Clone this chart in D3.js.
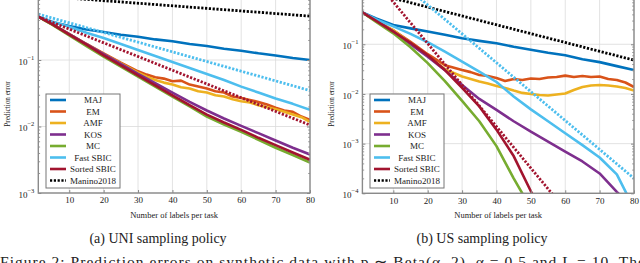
<!DOCTYPE html>
<html>
<head>
<meta charset="utf-8">
<script src="https://cdn.jsdelivr.net/npm/d3@7"></script>
<style>
  body { margin: 0; background: #fff; }
  svg { display: block; }
  text { font-family: "Liberation Serif", "Times New Roman", serif; fill: #222; }
</style>
</head>
<body>
<div id="chart"></div>
<script>
// number of labels per task
var xs = [1, 5, 10, 15, 20, 25, 30, 35, 40, 45, 50, 55, 60, 65, 70, 75, 80];
var xsNoisy = [1, 5, 10, 15, 20, 25, 30, 32.5, 35, 37.5, 40, 42.5, 45, 47.5, 50, 52.5, 55, 57.5, 60, 62.5, 65, 67.5, 70, 72.5, 75, 77.5, 80];
var boundX = [1, 80];
var xTicks = [10, 20, 30, 40, 50, 60, 70, 80];

var names = ["MAJ", "EM", "AMF", "KOS", "MC", "Fast SBIC", "Sorted SBIC", "Manino2018"];
var colors = ["#0072BD", "#D95319", "#EDB120", "#7E2F8E", "#77AC30", "#4DBEEE", "#A2142F", "#000000"];

// (a) UNI sampling policy
var uniMAJ = [0.447, 0.372, 0.324, 0.288, 0.263, 0.240, 0.224, 0.204, 0.191, 0.174, 0.162, 0.148, 0.138, 0.126, 0.117, 0.107, 0.100];
var uniEM = [0.447, 0.347, 0.245, 0.174, 0.126, 0.0912, 0.0676, 0.0603, 0.0550, 0.0525, 0.0479, 0.0490, 0.0427, 0.0398, 0.0372, 0.0339, 0.0324, 0.0282, 0.0269, 0.0251, 0.0234, 0.0214, 0.0191, 0.0174, 0.0166, 0.0141, 0.0126];
var uniAMF = [0.447, 0.347, 0.245, 0.174, 0.123, 0.0891, 0.0646, 0.0562, 0.0501, 0.0457, 0.0427, 0.0389, 0.0372, 0.0339, 0.0324, 0.0295, 0.0282, 0.0257, 0.0240, 0.0229, 0.0209, 0.0195, 0.0182, 0.0166, 0.0151, 0.0138, 0.0117];
var uniKOS = [0.447, 0.347, 0.245, 0.174, 0.123, 0.0871, 0.0617, 0.0447, 0.0324, 0.0234, 0.0174, 0.0132, 0.0102, 0.00794, 0.00617, 0.00479, 0.00380];
var uniMC = [0.447, 0.339, 0.234, 0.162, 0.112, 0.0794, 0.0562, 0.0398, 0.0282, 0.0200, 0.0141, 0.0107, 0.00832, 0.00631, 0.00479, 0.00372, 0.00288];
var uniFast = [0.447, 0.380, 0.316, 0.257, 0.214, 0.174, 0.141, 0.115, 0.0933, 0.0759, 0.0617, 0.0501, 0.0398, 0.0324, 0.0263, 0.0219, 0.0178];
var uniSorted = [0.447, 0.347, 0.240, 0.170, 0.117, 0.0832, 0.0589, 0.0417, 0.0295, 0.0209, 0.0151, 0.0115, 0.00891, 0.00676, 0.00525, 0.00407, 0.00316];
var uniManino = [0.925, 0.457];
var uniFastBound = [0.49, 0.0347];
var uniSortedBound = [0.447, 0.0105];

// (b) US sampling policy
var usMAJ = [0.437, 0.331, 0.245, 0.209, 0.180, 0.155, 0.132, 0.117, 0.105, 0.0891, 0.0776, 0.0676, 0.0603, 0.0501, 0.0437, 0.0363, 0.0302];
var usEM = [0.437, 0.295, 0.191, 0.112, 0.0631, 0.0380, 0.0302, 0.0275, 0.0240, 0.0229, 0.0209, 0.0182, 0.0200, 0.0191, 0.0204, 0.0200, 0.0214, 0.0219, 0.0234, 0.0219, 0.0229, 0.0219, 0.0224, 0.0200, 0.0191, 0.0170, 0.0138];
var usAMF = [0.437, 0.295, 0.191, 0.107, 0.0575, 0.0316, 0.0224, 0.0200, 0.0178, 0.0162, 0.0145, 0.0132, 0.0117, 0.0105, 0.0100, 0.00955, 0.00933, 0.00977, 0.0102, 0.0120, 0.0138, 0.0148, 0.0151, 0.0148, 0.0141, 0.0132, 0.0117];
var usKOS = [0.437, 0.302, 0.180, 0.100, 0.0562, 0.0302, 0.0151, 0.00794, 0.00479, 0.00282, 0.00174, 0.00110, 0.000692, 0.000437, 0.000251, 0.000107, 0.0000501];
var usMC = [0.437, 0.282, 0.166, 0.0871, 0.0417, 0.0182, 0.00724, 0.00282, 0.000891, 0.000200, 0.0000501];
var usFast = [0.437, 0.316, 0.229, 0.162, 0.110, 0.0708, 0.0447, 0.0282, 0.0174, 0.00891, 0.00490, 0.00282, 0.00162, 0.000933, 0.000525, 0.000240, 0.0000501];
var usSorted = [0.437, 0.295, 0.180, 0.107, 0.0603, 0.0302, 0.0132, 0.00562, 0.00191, 0.000562, 0.000110, 0.0000251];
var usManino = [1.22, 0.0479];
var usFastBound = [7.9, 0.000200];
var usSortedBound = [4.0, 0.000001];

var W = 640, H = 263;
var svg = d3.select("#chart").append("svg")
  .attr("width", W)
  .attr("height", H);

function makeSeries(vals) {
  // vals in legend order, then the dotted bound lines
  return [
    { x: xs, y: vals[0], c: colors[0] },
    { x: xsNoisy, y: vals[1], c: colors[1] },
    { x: xsNoisy, y: vals[2], c: colors[2] },
    { x: xs, y: vals[3], c: colors[3] },
    { x: xs, y: vals[4], c: colors[4] },
    { x: xs, y: vals[5], c: colors[5] },
    { x: xs, y: vals[6], c: colors[6] },
    { x: boundX, y: vals[7], c: colors[7], dotted: true },
    { x: boundX, y: vals[8], c: colors[5], dotted: true },
    { x: boundX, y: vals[9], c: colors[6], dotted: true }
  ];
}

function drawPanel(p) {
  var x = d3.scaleLinear().domain([1, 80]).range([p.x0, p.x1]);
  var y = d3.scaleLog().domain(p.yDomain).range([p.y0, p.y1]);
  var g = svg.append("g");

  var clipId = "clip-" + p.id;
  svg.append("clipPath").attr("id", clipId)
    .append("rect")
    .attr("x", p.x0).attr("y", p.y1)
    .attr("width", p.x1 - p.x0).attr("height", p.y0 - p.y1);

  var decades = y.ticks().filter(function(d) {
    return Math.abs(Math.log10(d) - Math.round(Math.log10(d))) < 1e-6;
  });
  var minors = y.ticks().filter(function(d) { return decades.indexOf(d) < 0; });

  // grid
  g.selectAll(".vgrid").data(xTicks).enter().append("line")
    .attr("x1", function(d) { return x(d); })
    .attr("x2", function(d) { return x(d); })
    .attr("y1", p.y0).attr("y2", p.y1)
    .attr("stroke", "#dadada").attr("stroke-width", 0.8);
  g.selectAll(".hgrid").data(decades).enter().append("line")
    .attr("x1", p.x0).attr("x2", p.x1)
    .attr("y1", function(d) { return y(d); })
    .attr("y2", function(d) { return y(d); })
    .attr("stroke", "#dadada").attr("stroke-width", 0.8);

  // lines
  var line = d3.line()
    .x(function(d) { return x(d[0]); })
    .y(function(d) { return y(d[1]); });
  var lines = g.append("g").attr("clip-path", "url(#" + clipId + ")");
  p.series.forEach(function(s) {
    var pts = s.y.map(function(v, i) { return [s.x[i], v]; });
    lines.append("path")
      .attr("d", line(pts))
      .attr("fill", "none")
      .attr("stroke", s.c)
      .attr("stroke-width", s.dotted ? 2.8 : 2.6)
      .attr("stroke-linejoin", "round")
      .attr("stroke-dasharray", s.dotted ? "2.2,1.6" : null);
  });

  // axes - ticks point inward
  var xAxis = g.append("g")
    .attr("transform", "translate(0," + p.y0 + ")")
    .call(d3.axisBottom(x).tickValues(xTicks).tickSize(-3).tickPadding(4));
  xAxis.select(".domain").remove();
  xAxis.selectAll("line").attr("stroke", "#888");
  xAxis.selectAll("text").attr("font-size", 9).attr("font-family", null).attr("fill", "#333");

  var yAxis = g.append("g")
    .attr("transform", "translate(" + p.x0 + ",0)")
    .call(d3.axisLeft(y).tickValues(decades).tickSize(-3).tickPadding(4).tickFormat(""));
  yAxis.select(".domain").remove();
  yAxis.selectAll("line").attr("stroke", "#888");
  yAxis.selectAll(".tick text").each(function(d) {
    var t = d3.select(this).attr("font-size", 9).attr("font-family", null)
      .attr("fill", "#333").attr("dy", "0.45em");
    t.append("tspan").text("10");
    t.append("tspan").text("\u2212" + Math.round(-Math.log10(d)))
      .attr("font-size", 6.5).attr("dy", "-0.75em");
  });
  // decade 10^0 label is above the visible area anyway
  yAxis.selectAll(".tick").filter(function(d) { return d >= 1; }).remove();

  var yMinor = g.append("g")
    .attr("transform", "translate(" + p.x0 + ",0)")
    .call(d3.axisLeft(y).tickValues(minors).tickSize(-1.8).tickFormat(""));
  yMinor.select(".domain").remove();
  yMinor.selectAll("line").attr("stroke", "#999");

  var yRight = g.append("g")
    .attr("transform", "translate(" + p.x1 + ",0)")
    .call(d3.axisLeft(y).tickValues(decades).tickSize(3).tickFormat(""));
  yRight.select(".domain").remove();
  yRight.selectAll("line").attr("stroke", "#888");
  var yRightMinor = g.append("g")
    .attr("transform", "translate(" + p.x1 + ",0)")
    .call(d3.axisLeft(y).tickValues(minors).tickSize(1.8).tickFormat(""));
  yRightMinor.select(".domain").remove();
  yRightMinor.selectAll("line").attr("stroke", "#999");

  // frame
  g.append("rect")
    .attr("x", p.x0).attr("y", p.y1)
    .attr("width", p.x1 - p.x0).attr("height", p.y0 - p.y1)
    .attr("fill", "none").attr("stroke", "#8a8a8a").attr("stroke-width", 1.4);

  // axis titles
  g.append("text")
    .attr("x", (p.x0 + p.x1) / 2).attr("y", 218)
    .attr("text-anchor", "middle").attr("font-size", 8.5)
    .text("Number of labels per task");
  g.append("text")
    .attr("transform", "translate(" + (p.x0 - 28) + ",104) rotate(-90)")
    .attr("text-anchor", "middle").attr("font-size", 7.2)
    .text("Prediction error");

  // legend
  var lg = g.append("g").attr("transform", "translate(" + p.lx + "," + p.ly + ")");
  lg.append("rect")
    .attr("width", 74).attr("height", 94)
    .attr("fill", "#fff").attr("stroke", "#777").attr("stroke-width", 1);
  names.forEach(function(n, i) {
    var yy = 6 + i * 11.5;
    lg.append("line")
      .attr("x1", 4).attr("x2", 20).attr("y1", yy).attr("y2", yy)
      .attr("stroke", colors[i]).attr("stroke-width", 2.6)
      .attr("stroke-dasharray", i == 7 ? "2.2,1.6" : null);
    lg.append("text")
      .attr("x", 47).attr("y", yy + 3.2)
      .attr("text-anchor", "middle").attr("font-size", 9)
      .text(n);
  });

  // caption
  svg.append("text")
    .attr("x", p.cx).attr("y", 243)
    .attr("text-anchor", "middle").attr("font-size", 14)
    .text(p.caption);
}

drawPanel({
  id: "uni", x0: 38.3, x1: 310, y0: 193, y1: -6.5, yDomain: [1e-3, 1],
  lx: 46, ly: 94, cx: 158, caption: "(a) UNI sampling policy",
  series: makeSeries([uniMAJ, uniEM, uniAMF, uniKOS, uniMC, uniFast, uniSorted, uniManino, uniFastBound, uniSortedBound])
});

drawPanel({
  id: "us", x0: 362.4, x1: 634, y0: 193.3, y1: -5.4, yDomain: [1e-4, 1],
  lx: 370, ly: 94, cx: 482, caption: "(b) US sampling policy",
  series: makeSeries([usMAJ, usEM, usAMF, usKOS, usMC, usFast, usSorted, usManino, usFastBound, usSortedBound])
});

// figure caption, cut off by the bottom edge as in the page
svg.append("text")
  .attr("x", 0).attr("y", 267)
  .attr("font-size", 15.5)
  .attr("textLength", 645).attr("lengthAdjust", "spacing")
  .text("Figure 2:  Prediction errors on synthetic data with  p \u223C Beta(\u03B1, 2),  \u03B1 = 0.5 and L = 10.  The");
</script>
</body>
</html>
